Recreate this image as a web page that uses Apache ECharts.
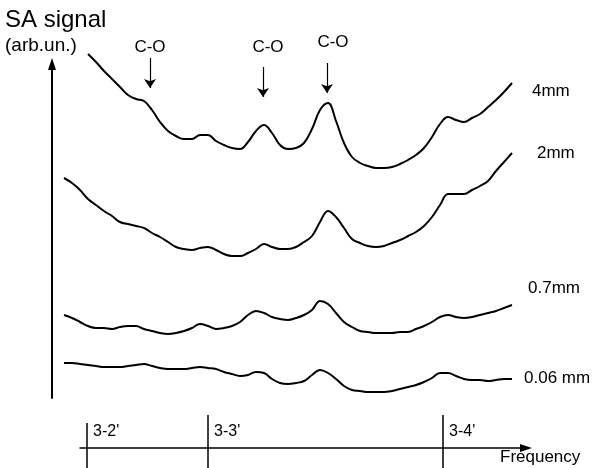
<!DOCTYPE html>
<html>
<head>
<meta charset="utf-8">
<script src="https://cdn.jsdelivr.net/npm/echarts@6/dist/echarts.min.js"></script>
<style>
  html, body { margin: 0; padding: 0; background: #fff; }
  #chart { width: 595px; height: 468px; }
</style>
</head>
<body>
<div id="chart"></div>
<script>
// frequency (arb. units), one sample per channel
const freq = [0, 2, 4, 6, 8, 10, 12, 14, 16, 18, 20, 22, 24, 26, 28, 30, 32, 34, 36, 38,
  40, 42, 44, 46, 48, 50, 52, 54, 56, 58, 60, 62, 64, 66, 68, 70, 72, 74, 76, 78,
  80, 82, 84, 86, 88, 90, 92, 94, 96, 98, 100, 102, 104, 106, 108, 110, 112];

// SA signal (arb.un.), traces shifted vertically as in the figure
const sig4mm = [null, null, null, 34.4, 33.6, 32.7, 31.9, 31.1, 30.3, 29.9,
  29.7, 28.8, 27.6, 26.7, 26.2, 25.9, 25.9, 26.3, 26.3, 25.7,
  25.3, 25.0, 24.9, 25.6, 26.7, 27.3, 26.5, 25.3, 24.9, 25.0,
  25.5, 26.9, 28.8, 29.5, 27.7, 25.5, 24.1, 23.5, 23.2, 23.0,
  23.0, 23.1, 23.4, 23.8, 24.3, 25.0, 26.1, 27.4, 28.1, 27.8,
  27.6, 28.0, 28.4, 29.1, 29.8, 30.6, 31.5];
const sig2mm = [22.0, 21.5, 20.8, 19.9, 19.3, 18.7, 18.2, 17.6, 17.4, 17.2,
  17.0, 16.5, 16.1, 15.6, 15.1, 14.9, 14.8, 15.0, 15.1, 14.8,
  14.4, 14.2, 14.2, 14.5, 14.9, 15.4, 15.1, 14.9, 14.9, 15.1,
  15.6, 16.2, 17.6, 18.7, 18.1, 17.0, 15.9, 15.5, 15.2, 15.1,
  15.2, 15.5, 15.8, 16.2, 16.6, 17.2, 18.1, 19.3, 20.4, 20.4,
  20.4, 20.8, 21.2, 21.7, 22.7, 23.6, 24.5];
const sig07mm = [8.3, 8.0, 7.6, 7.2, 7.0, 7.0, 6.9, 7.1, 7.2, 7.2,
  6.9, 6.7, 6.5, 6.4, 6.5, 6.7, 7.0, 7.4, 7.2, 6.9,
  7.0, 7.2, 7.6, 8.3, 8.7, 8.5, 8.1, 7.9, 7.8, 8.0,
  8.3, 8.8, 9.7, 9.4, 8.5, 7.6, 7.1, 6.7, 6.6, 6.5,
  6.5, 6.5, 6.6, 6.6, 6.9, 7.2, 7.6, 8.1, 8.3, 8.1,
  8.0, 8.1, 8.3, 8.5, 8.7, 9.0, 9.3];
const sig006mm = [3.5, 3.5, 3.4, 3.3, 3.2, 3.1, 3.1, 3.1, 3.2, 3.3,
  3.4, 3.2, 3.0, 2.9, 2.9, 2.9, 3.0, 3.1, 3.0, 2.9,
  2.6, 2.4, 2.2, 2.3, 2.6, 2.5, 1.9, 1.5, 1.4, 1.5,
  1.7, 2.3, 2.8, 2.5, 1.9, 1.2, 0.8, 0.7, 0.6, 0.6,
  0.6, 0.7, 0.9, 1.1, 1.3, 1.6, 2.0, 2.5, 2.5, 2.2,
  1.9, 1.8, 1.8, 1.7, 1.8, 1.9, 1.9];

const traceNames = ["4mm", "2mm", "0.7mm", "0.06 mm"];

// transitions marked on the frequency axis
const transitionNames = ["3-2'", "3-3'", "3-4'"];
const transitionFreq = [5.75, 36, 94.75];

// C-O peaks: arrow position, arrow top / tip, label position
const coFreq = [21.5, 49.75, 65.75];
const coArrowTop = [34.0, 33.1, 33.5];
const coArrowTip = [31.0, 30.1, 30.5];
const coLabelFreq = [21.5, 51, 67.25];
const coLabelSig = [35.1, 35.1, 35.6];

const FONT = "Liberation Sans, Arial, sans-serif";
const FMAX = 115.5;

function pairs(arr) {
  return freq.map((f, i) => [f, arr[i]]);
}

// 曲线末端标签偏移
const endOffsets = [[20, 8], [25, 0], [16, -17], [12, -1]];

const traces = [sig4mm, sig2mm, sig07mm, sig006mm].map((arr, i) => ({
  name: traceNames[i],
  type: "line",
  xAxisIndex: 0,
  yAxisIndex: 0,
  data: pairs(arr),
  showSymbol: false,
  smooth: 0.4,
  clip: false,
  color: "#000",
  lineStyle: { color: "#000", width: 2 },
  endLabel: {
    show: true,
    formatter: traceNames[i],
    distance: 0,
    offset: endOffsets[i],
    fontSize: 17,
    color: "#000",
    fontFamily: FONT,
  },
}));

// C-O 箭头
traces[0].markLine = {
  silent: true,
  symbol: ["none", "arrow"],
  symbolSize: 9,
  label: { show: false },
  lineStyle: { color: "#000", width: 1.2, type: "solid" },
  data: coFreq.map((f, i) => [
    { coord: [f, coArrowTop[i]] },
    { coord: [f, coArrowTip[i]] },
  ]),
};

const tickStyle = { color: "#000", width: 1.5 };

const option = {
  animation: false,
  backgroundColor: "#fff",
  textStyle: { fontFamily: FONT },
  title: {
    text: "SA signal",
    subtext: "(arb.un.)",
    left: 5,
    top: 8,
    padding: 0,
    itemGap: 4,
    textStyle: { fontSize: 24, fontWeight: "normal", color: "#000", fontFamily: FONT },
    subtextStyle: { fontSize: 19, color: "#000", fontFamily: FONT },
  },
  grid: [
    { left: 64, right: 69, top: 38, bottom: 70 },   // traces
    { left: 80, right: 69, top: 400, bottom: 20 },  // frequency axis
    { left: 52, right: 69, top: 64, bottom: 70 },   // signal axis arrow
  ],
  xAxis: [
    { gridIndex: 0, type: "value", min: 0, max: FMAX, show: false },
    {
      gridIndex: 1,
      type: "value",
      min: 4,
      max: FMAX,
      position: "bottom",
      axisLine: {
        show: true,
        onZero: false,
        symbol: ["none", "triangle"],
        symbolSize: [8, 12],
        lineStyle: { color: "#000", width: 1.5 },
      },
      axisTick: {
        show: true,
        inside: true,
        length: 33,
        customValues: transitionFreq.slice(1),
        lineStyle: tickStyle,
      },
      axisLabel: {
        show: true,
        inside: true,
        customValues: transitionFreq,
        formatter: (v) => transitionNames[transitionFreq.indexOf(v)],
        align: "left",
        padding: [0, 0, 0, 6],
        margin: 8,
        fontSize: 16,
        color: "#000",
      },
      splitLine: { show: false },
      name: "Frequency",
      nameLocation: "end",
      nameGap: -26,
      nameTextStyle: {
        fontSize: 17,
        color: "#000",
        align: "left",
        verticalAlign: "top",
        padding: [1, 0, 0, 0],
      },
    },
    {
      gridIndex: 1,
      type: "value",
      min: 4,
      max: FMAX,
      position: "bottom",
      axisLine: { show: false },
      axisTick: {
        show: true,
        inside: false,
        length: 20,
        customValues: transitionFreq,
        lineStyle: tickStyle,
      },
      axisLabel: { show: false },
      splitLine: { show: false },
    },
    {
      gridIndex: 1,
      type: "value",
      min: 4,
      max: FMAX,
      position: "bottom",
      axisLine: { show: false },
      axisTick: {
        show: true,
        inside: true,
        length: 25,
        customValues: transitionFreq.slice(0, 1),
        lineStyle: tickStyle,
      },
      axisLabel: { show: false },
      splitLine: { show: false },
    },
    { gridIndex: 2, type: "value", min: 0, max: 1, show: false },
  ],
  yAxis: [
    { gridIndex: 0, type: "value", min: 0, max: 36, show: false },
    { gridIndex: 1, type: "value", min: 0, max: 1, show: false },
    {
      gridIndex: 2,
      type: "value",
      min: 0,
      max: 1,
      axisLine: {
        show: true,
        onZero: false,
        symbol: ["none", "triangle"],
        symbolSize: [8, 12],
        lineStyle: { color: "#000", width: 2 },
      },
      axisTick: { show: false },
      axisLabel: { show: false },
      splitLine: { show: false },
    },
  ],
  series: traces.concat([
    {
      type: "scatter",
      xAxisIndex: 0,
      yAxisIndex: 0,
      silent: true,
      clip: false,
      symbolSize: 0,
      itemStyle: { opacity: 1, color: "#000" },
      data: coLabelFreq.map((f, i) => [f, coLabelSig[i]]),
      label: {
        show: true,
        position: "inside",
        formatter: "C-O",
        fontSize: 17,
        color: "#000",
        fontFamily: FONT,
      },
    },
  ]),
};

const chart = echarts.init(document.getElementById("chart"));
chart.setOption(option);
</script>
</body>
</html>
